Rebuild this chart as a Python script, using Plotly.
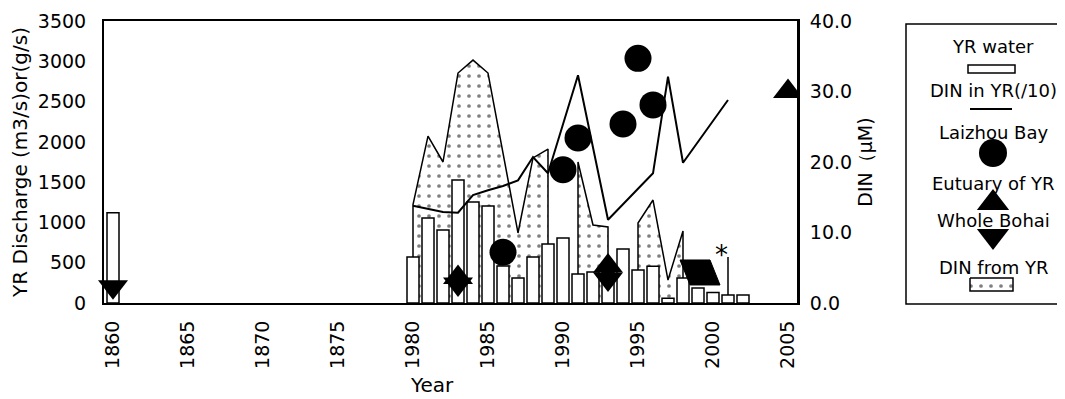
import plotly.graph_objects as go

# ---------------- data ----------------
early_years = list(range(1860, 1880))
late_years = list(range(1980, 2006))
categories = [str(y) for y in early_years + late_years]
tick_years = ['1860', '1865', '1870', '1875', '1980', '1985', '1990', '1995', '2000', '2005']

water_years = [1860] + list(range(1980, 2003))
yr_water = [1120, 570, 1055, 906, 1526, 1253, 1203, 460, 310, 570, 732, 806,
            360, 385, 380, 670, 410, 455, 60, 310, 186, 130, 100, 100]
water_err = {2001: 470}

din_from_years = [1980, 1981, 1982, 1983, 1984, 1985, 1987, 1988, 1989, 1990,
                  1991, 1992, 1993, 1994, 1995, 1996, 1997, 1998]
din_from_yr = [1220, 2072, 1750, 2854, 3015, 2854, 869, 1800, 1910, None,
               1750, 968, 943, None, 992, 1278, 285, 893]

din_yr_years = [1980, 1981, 1982, 1983, 1984, 1985, 1986, 1987, 1988, 1989,
                1991, 1993, 1996, 1997, 1998, 2001]
din_in_yr = [13.8, 13.3, 12.9, 12.8, 15.3, 16.0, 16.6, 17.4, 20.7, 18.4,
             32.3, 11.8, 18.4, 32.1, 19.9, 28.8]

laizhou_years = [1986, 1990, 1991, 1994, 1995, 1996]
laizhou_bay = [7.2, 18.9, 23.4, 25.4, 34.7, 28.1]

estuary_years = [1983, 1993, 2005]
estuary_yr = [3.6, 5.25, 30.0]

bohai_years = [1860, 1983, 1993]
whole_bohai = [2.3, 2.7, 3.4]

bohai_range_year = 1999
bohai_range_value = 4.4

# ---------------- geometry (page body adds an 8px offset) ----------------
OFF = 8
W, H = 1065 - OFF, 399 - OFF
ML, MR, MT, MB = 104 - OFF, 2, 21 - OFF, 96
PW = W - ML - MR
PH = H - MT - MB
main_right = 797 - OFF
x_dom_main = [0, (main_right - ML) / PW]
leg_left = 906 - OFF
x_dom_leg = [(leg_left - ML) / PW, 1]


def px(v):
    return v - OFF


def paper_x(v):
    return (px(v) - ML) / PW


def paper_y(v):
    return (MT + PH - px(v)) / PH


FONT = 'DejaVu Sans'


def s(years):
    return [str(y) for y in years]


# stipple area: closed polygons per segment (drop to zero at segment ends)
area_x, area_y = [], []
seg = []
for yv, v in zip(din_from_years + [None], din_from_yr + [None]):
    if v is None:
        if seg:
            area_x += [str(seg[0][0])] + [str(a) for a, _ in seg] + [str(seg[-1][0]), None]
            area_y += [0] + [b for _, b in seg] + [0, None]
        seg = []
    else:
        seg.append((yv, v))

stipple = dict(shape='.', fgcolor='black', bgcolor='white', size=10, solidity=0.11)

fig = go.Figure()

fig.add_trace(go.Scatter(
    x=area_x, y=area_y, mode='lines', connectgaps=False,
    line=dict(color='black', width=1.5),
    fill='toself', fillcolor='white', fillpattern=stipple,
    xaxis='x', yaxis='y', showlegend=False, hoverinfo='skip'))

err_arr = [water_err.get(y, 0) for y in water_years]
fig.add_trace(go.Bar(
    x=s(water_years), y=yr_water, width=0.8,
    marker=dict(color='white', line=dict(color='black', width=1.5)),
    error_y=dict(type='data', array=err_arr, arrayminus=[0] * len(err_arr),
                 symmetric=False, color='black', thickness=1.5, width=0),
    xaxis='x', yaxis='y2', showlegend=False))

ast_year = 2001
fig.add_trace(go.Scatter(
    x=[str(ast_year)], y=[yr_water[water_years.index(ast_year)] + water_err[ast_year]],
    mode='text', text=['*'], textposition='middle left',
    textfont=dict(family=FONT, size=26, color='black'),
    xaxis='x', yaxis='y2', showlegend=False, cliponaxis=False, hoverinfo='skip'))

fig.add_trace(go.Scatter(
    x=s(din_yr_years), y=din_in_yr, mode='lines',
    line=dict(color='black', width=2), xaxis='x', yaxis='y3', showlegend=False))

fig.add_trace(go.Scatter(
    x=s(laizhou_years), y=laizhou_bay, mode='markers',
    marker=dict(symbol='circle', size=27, color='black', opacity=1),
    xaxis='x', yaxis='y3', showlegend=False))

fig.add_trace(go.Scatter(
    x=s(estuary_years), y=estuary_yr, mode='markers',
    marker=dict(symbol='triangle-up', size=26, color='black', opacity=1),
    xaxis='x', yaxis='y3', showlegend=False))

fig.add_trace(go.Scatter(
    x=s(bohai_years), y=whole_bohai, mode='markers',
    marker=dict(symbol='triangle-down', size=26, color='black', opacity=1),
    xaxis='x', yaxis='y3', showlegend=False, cliponaxis=False))

# ---------------- legend (drawn on hidden axes, in page pixels) ----------------
lx = px(993)
fig.add_trace(go.Scatter(
    x=[lx, lx, lx], y=[px(153), px(203), px(236)], mode='markers',
    marker=dict(symbol=['circle', 'triangle-up', 'triangle-down'], size=28, color='black', opacity=1),
    xaxis='x2', yaxis='y4', showlegend=False, cliponaxis=False, hoverinfo='skip'))
fig.add_trace(go.Scatter(
    x=[px(970), px(1013), px(1013), px(970), px(970)],
    y=[px(278), px(278), px(291), px(291), px(278)], mode='lines',
    line=dict(color='black', width=1.5), fill='toself', fillcolor='white', fillpattern=stipple,
    xaxis='x2', yaxis='y4', showlegend=False, cliponaxis=False, hoverinfo='skip'))

shapes = [
    dict(type='rect', xref='paper', yref='paper', x0=paper_x(906), x1=paper_x(1060),
         y0=paper_y(24), y1=paper_y(304),
         line=dict(color='black', width=1.5), fillcolor='rgba(0,0,0,0)'),
    dict(type='rect', xref='paper', yref='paper', x0=paper_x(968), x1=paper_x(1015),
         y0=paper_y(65), y1=paper_y(73),
         line=dict(color='black', width=1.5), fillcolor='white'),
    dict(type='line', xref='paper', yref='paper', x0=paper_x(970), x1=paper_x(1012),
         y0=paper_y(109), y1=paper_y(109), line=dict(color='black', width=2)),
    dict(type='path', xref='x', yref='y3', xsizemode='pixel', ysizemode='pixel',
         xanchor=categories.index(str(bohai_range_year)), yanchor=bohai_range_value,
         path='M -18,12 L 12,12 L 22,-13 L -8,-13 Z',
         fillcolor='black', line=dict(color='black', width=1)),
]

ann = []
leg_texts = [('YR water', 46), ('DIN in YR(/10)', 90), ('Laizhou Bay', 132),
             ('Eutuary of YR', 183), ('Whole Bohai', 220), ('DIN from YR', 267)]
for t, yy in leg_texts:
    ann.append(dict(text=t, x=lx, y=px(yy), xref='x2', yref='y4', showarrow=False,
                    font=dict(family=FONT, size=18, color='black'), xanchor='center', yanchor='middle'))

ann.append(dict(text='Year', x=paper_x(432), y=paper_y(385), xref='paper', yref='paper',
                showarrow=False, font=dict(family=FONT, size=20, color='black'),
                xanchor='center', yanchor='middle'))

axis_font = dict(family=FONT, size=19, color='black')

fig.update_layout(
    width=W, height=H,
    margin=dict(l=ML, r=MR, t=MT, b=MB, autoexpand=False),
    paper_bgcolor='white', plot_bgcolor='white',
    showlegend=False,
    bargap=0.2,
    shapes=shapes,
    annotations=ann,
    xaxis=dict(type='category', categoryorder='array', categoryarray=categories,
               range=[-0.6, len(categories) - 0.4], domain=x_dom_main, automargin=False,
               tickmode='array', tickvals=tick_years, ticktext=tick_years, tickangle=-90,
               tickfont=axis_font, ticks='', showgrid=False, zeroline=False,
               showline=True, linecolor='black', linewidth=2, mirror=True,
               ticklabelstandoff=8, anchor='y'),
    yaxis=dict(range=[0, 3500], tick0=0, dtick=500, tickfont=axis_font, ticks='', automargin=False,
               showgrid=False, zeroline=False, showline=True, linecolor='black', linewidth=2,
               ticklabelstandoff=12,
               title=dict(text='YR Discharge (m3/s)or(g/s)', font=dict(family=FONT, size=20, color='black'),
                          standoff=6)),
    yaxis2=dict(range=[0, 3500], overlaying='y', visible=False, anchor='x', automargin=False),
    yaxis3=dict(range=[0, 40], tick0=0, dtick=10, tickformat='.1f', overlaying='y', side='right',
                anchor='x', tickfont=axis_font, ticks='', showgrid=False, zeroline=False, automargin=False,
                showline=True, linecolor='black', linewidth=3, ticklabelstandoff=6,
                title=dict(text='DIN（μM)', font=dict(family=FONT, size=19, color='black'), standoff=8)),
    xaxis2=dict(domain=x_dom_leg, range=[leg_left, W - MR], visible=False, anchor='y4', automargin=False),
    yaxis4=dict(domain=[0, 1], range=[MT + PH, MT], visible=False, anchor='x2', automargin=False),
)

fig.write_html('out.html')
